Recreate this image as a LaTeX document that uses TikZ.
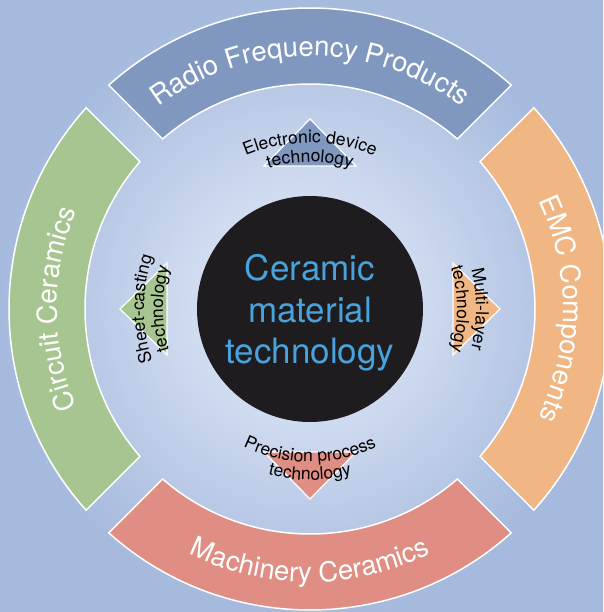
\documentclass[tikz,border=0pt]{standalone}
\usepackage{fontspec}
\setmainfont{TeX Gyre Heros}
\usetikzlibrary{decorations.text}
\definecolor{rfblue}{RGB}{128,151,192}
\definecolor{emcorange}{RGB}{240,183,132}
\definecolor{machred}{RGB}{224,142,132}
\definecolor{circgreen}{RGB}{167,197,145}
\definecolor{coreblue}{RGB}{72,162,220}
\definecolor{coreblack}{RGB}{30,28,30}
\definecolor{bgin}{RGB}{232,239,250}
\definecolor{bgout}{RGB}{166,186,222}
\tikzstyle{band} = [draw=white, line width=1.5pt, line join=miter]
\tikzstyle{wedge} = [draw=white, line width=1.2pt, line join=miter]
\newcommand{\bandfont}{\fontsize{27.5}{30}\selectfont}
\newcommand{\techfont}{\fontsize{17.5}{20}\selectfont}

\begin{document}
\begin{tikzpicture}[x=1pt, y=1pt,
    bandtext/.style={decorate, decoration={text along path, text align=center,
        text color=white, text={|\bandfont|#1}}},
    techtext/.style={decorate, decoration={text along path, text align=center,
        text color=black, text={|\techfont|#1}}}
]
    \useasboundingbox (-310,-303) rectangle (293,309);
    \clip (-310,-303) rectangle (293,309);
    \shade[inner color=bgin, outer color=bgout] (-310,-303) rectangle (293,309);

    % outer ring
    \foreach \ang/\col in {90/rfblue, 0/emcorange, 270/machred, 180/circgreen} {
        \filldraw[band, fill=\col] ({\ang-41.95}:301)
            arc[start angle=\ang-41.95, end angle=\ang+41.95, radius=301]
            -- ({\ang+40.92}:225)
            arc[start angle=\ang+40.92, end angle=\ang-40.92, radius=225] -- cycle;
    }
    \path[bandtext={Radio Frequency Products}] (130:253) arc[start angle=130, end angle=50, radius=253];
    \path[bandtext={EMC Components}] (42:253) arc[start angle=42, end angle=-42, radius=253];
    \path[bandtext={Machinery Ceramics}] (222:273) arc[start angle=222, end angle=318, radius=273];
    \path[bandtext={Circuit Ceramics}] (222:253) arc[start angle=222, end angle=138, radius=253];

    % inner wedges
    \foreach \ang/\col in {90/rfblue, 0/emcorange, 270/machred, 180/circgreen} {
        \filldraw[wedge, fill=\col, rotate=\ang-90] (0,190) -- (-46,143) -- (46,143) -- cycle;
    }
    \path[techtext={Electronic device}] (140:166) arc[start angle=140, end angle=40, radius=166];
    \path[techtext={technology}] (140:147) arc[start angle=140, end angle=40, radius=147];
    \path[techtext={Multi-layer}] (50:166) arc[start angle=50, end angle=-50, radius=166];
    \path[techtext={technology}] (50:147) arc[start angle=50, end angle=-50, radius=147];
    \path[techtext={Precision process}] (220:153) arc[start angle=220, end angle=320, radius=153];
    \path[techtext={technology}] (220:171) arc[start angle=220, end angle=320, radius=171];
    \path[techtext={Sheet-casting}] (230:166) arc[start angle=230, end angle=130, radius=166];
    \path[techtext={technology}] (230:147) arc[start angle=230, end angle=130, radius=147];

    % core
    \node[circle, fill=coreblack, minimum size=226pt, inner sep=0pt] (core) at (0,0) {};
    \node[text=coreblue, font=\fontsize{35}{41.5}\selectfont, align=center] (coretext) at (0,-4)
        {Ceramic\\material\\technology};
\end{tikzpicture}
\end{document}
